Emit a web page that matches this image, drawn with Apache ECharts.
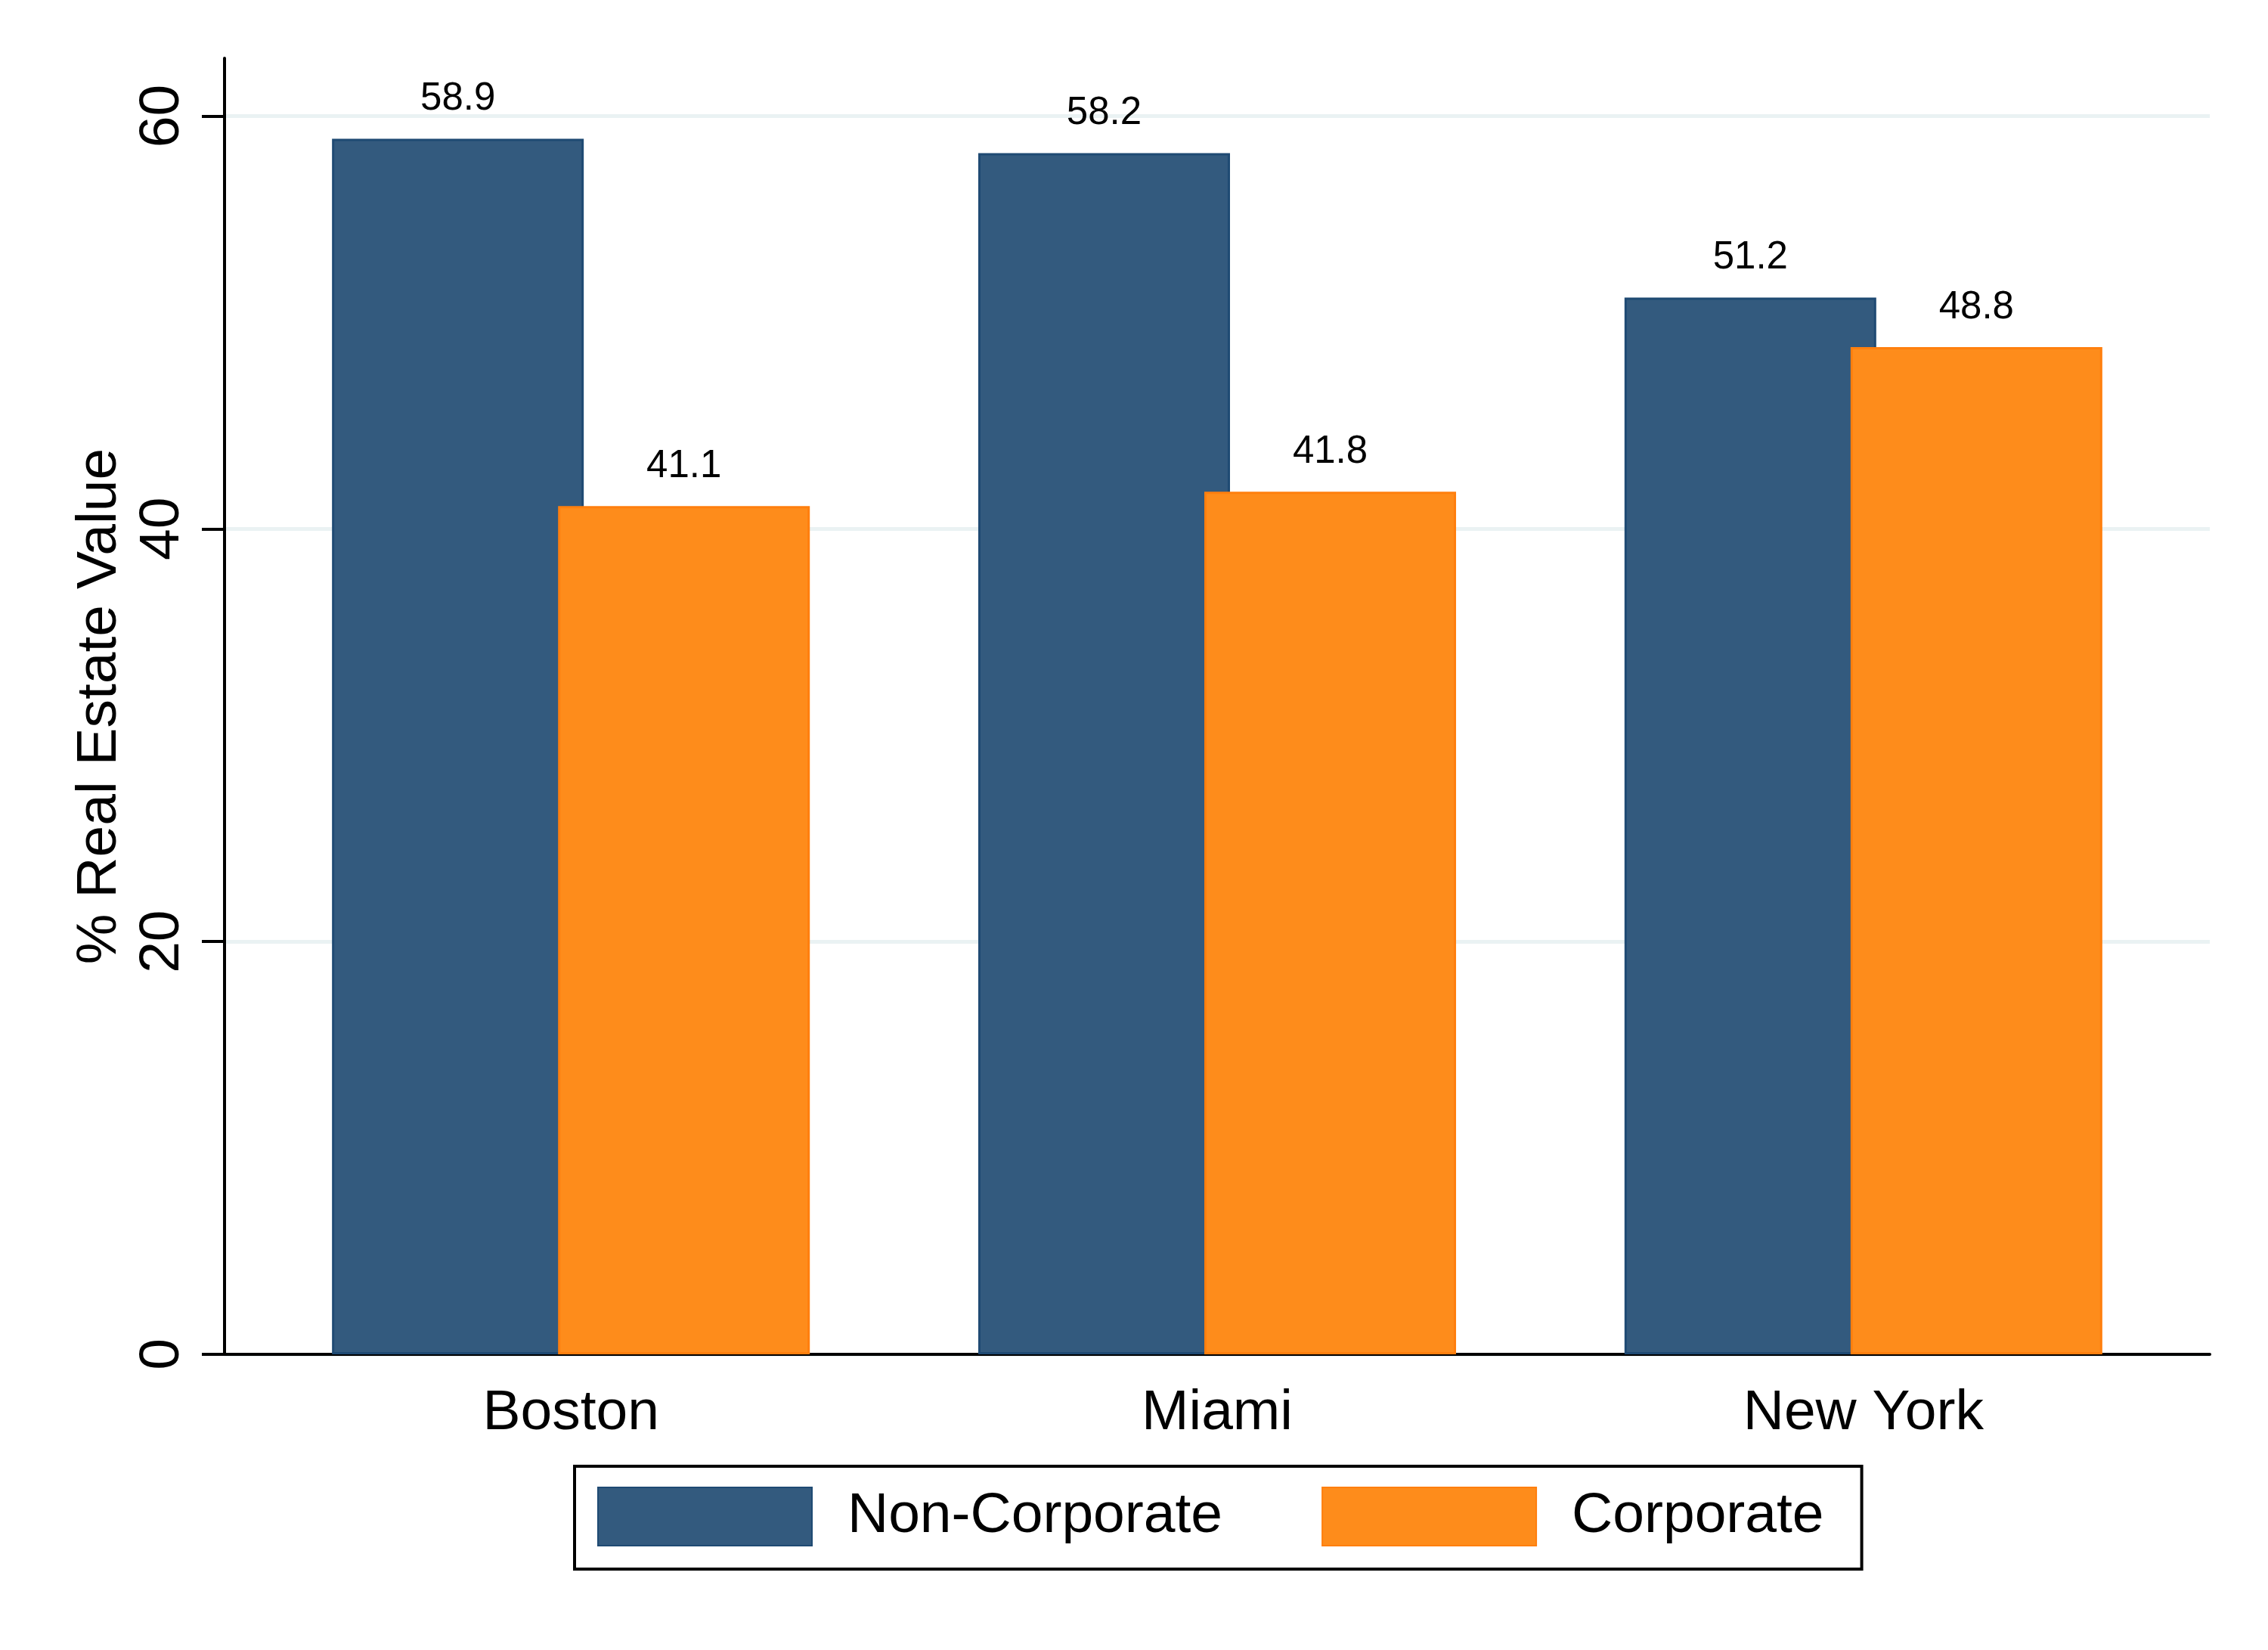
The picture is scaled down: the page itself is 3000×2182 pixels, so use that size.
<!DOCTYPE html>
<html>
<head>
<meta charset="utf-8">
<script src="https://cdn.jsdelivr.net/npm/echarts@6/dist/echarts.min.js"></script>
<style>
  html, body { margin: 0; padding: 0; background: #ffffff; }
  #chart { width: 3000px; height: 2182px; }
</style>
</head>
<body>
<div id="chart"></div>
<script>
const categories = ['Boston', 'Miami', 'New York'];
const seriesNames = ['Non-Corporate', 'Corporate'];
const nonCorporate = [58.9, 58.2, 51.2];
const corporate = [41.1, 41.8, 48.8];
const yTicks = [0, 20, 40, 60];
const gridTicks = [20, 40, 60];
const xTicks = [0, 1, 2];

const FONT = '"Liberation Sans", Arial, Helvetica, sans-serif';
const chart = echarts.init(document.getElementById('chart'), null, { renderer: 'canvas' });

function pairs(vals) { return vals.map((v, i) => [i, v]); }

const labelCfg = {
  show: true,
  position: 'top',
  distance: 27,
  fontSize: 51,
  fontFamily: FONT,
  color: '#000000',
  formatter: p => p.value[1].toFixed(1)
};

chart.setOption({
  backgroundColor: '#ffffff',
  animation: false,
  grid: { left: 297, right: 77, top: 77, bottom: 391, containLabel: false },
  legend: {
    left: 760,
    top: 1939,
    orient: 'horizontal',
    icon: 'rect',
    itemWidth: 283,
    itemHeight: 77,
    itemGap: 131,
    padding: [27, 50, 30, 30],
    borderColor: '#000000',
    borderWidth: 4,
    textStyle: { fontSize: 75, fontFamily: FONT, color: '#000000', padding: [0, 0, 0, 42] },
    data: seriesNames
  },
  xAxis: {
    type: 'value',
    min: -0.536,
    max: 2.536,
    axisLine: { show: true, onZero: false, lineStyle: { color: '#000000', width: 4 } },
    axisTick: { show: false },
    splitLine: { show: false },
    axisLabel: {
      customValues: xTicks,
      formatter: v => categories[Math.round(v)] || '',
      fontSize: 75,
      fontFamily: FONT,
      color: '#000000',
      margin: 41
    }
  },
  yAxis: {
    type: 'value',
    min: 0,
    max: 62.8,
    interval: 20,
    name: '% Real Estate Value',
    nameLocation: 'middle',
    nameRotate: 90,
    nameGap: 124,
    nameTextStyle: { fontSize: 75, fontFamily: FONT, color: '#000000' },
    axisLine: { show: true, onZero: false, lineStyle: { color: '#000000', width: 4 } },
    axisTick: { show: true, length: 30, customValues: yTicks, lineStyle: { color: '#000000', width: 4 } },
    axisLabel: {
      customValues: yTicks,
      rotate: 90,
      fontSize: 75,
      fontFamily: FONT,
      color: '#000000',
      margin: 44
    },
    splitLine: {
      show: true,
      customValues: gridTicks,
      lineStyle: { color: '#eaf2f3', width: 5 }
    }
  },
  series: [
    {
      name: seriesNames[0],
      type: 'bar',
      data: pairs(nonCorporate),
      barWidth: 333,
      barGap: '-10.2%',
      itemStyle: { color: '#335a7e', borderColor: '#1f4a73', borderWidth: 3 },
      label: labelCfg
    },
    {
      name: seriesNames[1],
      type: 'bar',
      data: pairs(corporate),
      barWidth: 333,
      barGap: '-10.2%',
      itemStyle: { color: '#fe8c1b', borderColor: '#ff7f0e', borderWidth: 3 },
      label: labelCfg
    }
  ]
});
</script>
</body>
</html>
